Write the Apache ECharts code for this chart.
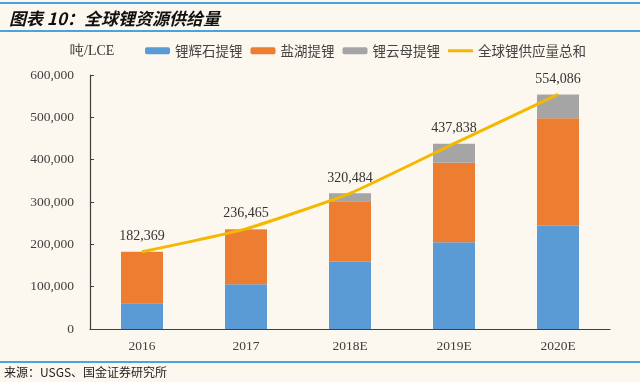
<!DOCTYPE html>
<html><head><meta charset="utf-8">
<script src="https://cdn.jsdelivr.net/npm/echarts@6/dist/echarts.min.js"></script>
<style>html,body{margin:0;padding:0;background:#FCF8EF}#c{width:640px;height:382px}</style>
</head><body><div id="c"></div>
<script>
const categories = ['2016','2017','2018E','2019E','2020E'];
const spodumene = [61000, 106000, 159000, 205000, 244000];
const brine = [121369, 129000, 143000, 188000, 254000];
const lepidolite = [0, 1465, 18484, 44838, 56086];
const totalSupply = [182369, 236465, 320484, 437838, 554086];
const seriesNames = ['锂辉石提锂','盐湖提锂','锂云母提锂','全球锂供应量总和'];
const yTicks = [0,100000,200000,300000,400000,500000,600000];

const serif = '"Liberation Serif","Times New Roman",serif';
const cjk = '"Noto Sans CJK SC",sans-serif';
const fmt = v => v.toLocaleString('en-US');
const chart = echarts.init(document.getElementById('c'), null, {renderer:'canvas'});
chart.setOption({
  backgroundColor:'#FCF8EF',
  animation:false,
  title:{text:'图表 10：全球锂资源供给量',left:4,top:5,
    textStyle:{fontFamily:cjk,fontSize:17,fontWeight:'bold',fontStyle:'italic',color:'#111'}},
  graphic:[
    {type:'rect',shape:{x:0,y:2,width:640,height:2},style:{fill:'#4AA3DF'}},
    {type:'rect',shape:{x:0,y:30,width:640,height:2},style:{fill:'#4AA3DF'}},
    {type:'rect',shape:{x:0,y:361,width:640,height:2},style:{fill:'#4AA3DF'}},
    {type:'text',left:4,top:366,style:{text:'来源：USGS、国金证券研究所',font:'12px '+cjk,fill:'#222'}},
    {type:'text',left:70,top:44,style:{text:'吨/LCE',font:'14px '+serif,fill:'#333'}}
  ],
  legend:{left:145,top:44,padding:0,itemWidth:25,itemHeight:7,itemGap:8,
    textStyle:{fontFamily:cjk,fontSize:13.5,color:'#444'},
    data:[seriesNames[0],seriesNames[1],seriesNames[2],
      {name:seriesNames[3],icon:'path://M0,0H25V3H0Z'}]},
  grid:{left:90,right:30,top:75,bottom:53},
  xAxis:{type:'category',data:categories,
    axisLine:{lineStyle:{color:'#404040',width:1.2}},axisTick:{show:false},
    axisLabel:{fontFamily:serif,fontSize:13.5,color:'#404040',margin:10}},
  yAxis:{type:'value',min:yTicks[0],max:yTicks[yTicks.length-1],interval:100000,
    axisLine:{show:true,lineStyle:{color:'#404040',width:1.2}},
    axisTick:{show:true,inside:true,length:4,lineStyle:{color:'#404040'}},
    splitLine:{show:false},
    axisLabel:{fontFamily:serif,fontSize:13.5,color:'#404040',margin:16,formatter:v=>fmt(v)}},
  series:[
    {name:seriesNames[0],type:'bar',stack:'s',barWidth:42,data:spodumene,itemStyle:{color:'#5B9BD5'}},
    {name:seriesNames[1],type:'bar',stack:'s',barWidth:42,data:brine,itemStyle:{color:'#ED7D31'}},
    {name:seriesNames[2],type:'bar',stack:'s',barWidth:42,data:lepidolite,itemStyle:{color:'#A5A5A5'}},
    {name:seriesNames[3],type:'line',data:totalSupply,symbol:'circle',symbolSize:1,showSymbol:true,smooth:0.15,z:5,
      lineStyle:{color:'#F5B800',width:3},itemStyle:{color:'#F5B800'},
      label:{show:true,position:'top',distance:8,fontFamily:serif,fontSize:14,color:'#333',formatter:p=>fmt(p.value)}}
  ]
});
</script></body></html>
